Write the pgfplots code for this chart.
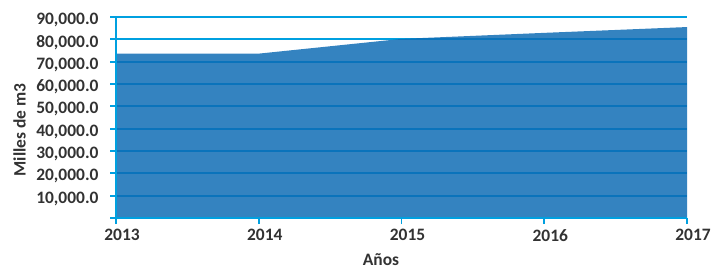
\documentclass[border=0pt]{standalone}
\usepackage{pgfplots}
\pgfplotsset{compat=1.18}
\usepackage{fontspec}
\setmainfont{Carlito}
\definecolor{gridcyan}{RGB}{0,160,224}
\definecolor{areablue}{RGB}{12,107,180}
\definecolor{txt}{RGB}{50,50,50}
\begin{document}
\begin{tikzpicture}
\useasboundingbox (-116bp,-51bp) rectangle (596bp,218bp);
\begin{axis}[
  at={(0,0)}, anchor=south west,
  scale only axis,
  width=571bp, height=201bp,
  xmin=2013, xmax=2017,
  ymin=0, ymax=90000,
  scaled y ticks=false,
  axis lines*=left,
  axis line style={gridcyan, line width=1.8bp},
  xtick={2013,2014,2015,2016,2017},
  xticklabels={2013,2014,2015,2016,2017},
  ytick={0,10000,20000,30000,40000,50000,60000,70000,80000,90000},
  yticklabels={,{10,000.0},{20,000.0},{30,000.0},{40,000.0},{50,000.0},{60,000.0},{70,000.0},{80,000.0},{90,000.0}},
  tick align=outside,
  major tick length=6bp,
  tick style={gridcyan, line width=1.8bp},
  ymajorgrids,
  major grid style={gridcyan, line width=1.8bp},
  tick label style={font=\fontsize{17.5}{20}\selectfont\bfseries, text=txt},
  label style={font=\fontsize{17.5}{20}\selectfont\bfseries, text=txt},
  xticklabel style={yshift=-2bp, xshift=6bp},
  yticklabel style={xshift=-8bp, yshift=-3bp},
  xlabel={Años},
  ylabel={Milles de m3},
  xlabel style={at={(axis description cs:0.464,-0.209)}, anchor=center},
  ylabel style={at={(axis description cs:-0.169,0.438)}, anchor=center, rotate=0},
  clip=false,
]
\addplot[draw=none, fill=areablue, fill opacity=0.835] coordinates {
  (2013,73600) (2014,73600) (2015,80200) (2016,82900) (2017,85500)
} \closedcycle;
\draw[gridcyan, line width=1.8bp] (axis cs:2013,90000) -- (axis cs:2013,0) -- (axis cs:2017,0);
\end{axis}
\end{tikzpicture}
\end{document}
